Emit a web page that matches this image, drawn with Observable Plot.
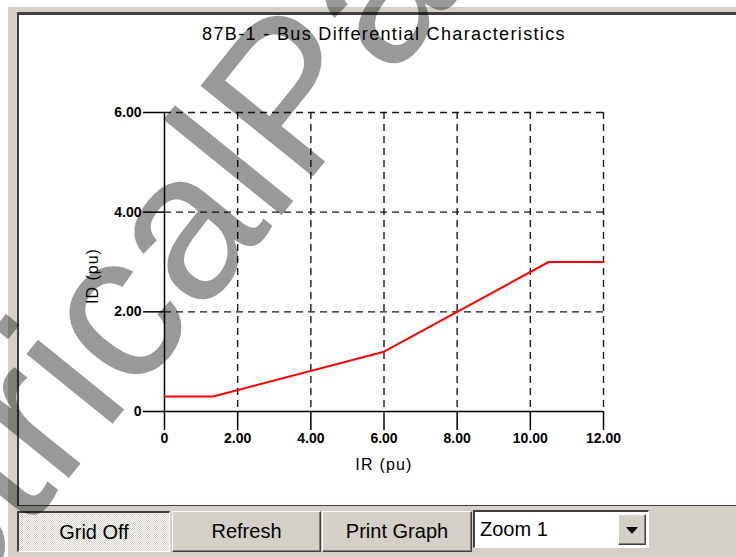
<!DOCTYPE html>
<html><head><meta charset="utf-8">
<script src="https://cdn.jsdelivr.net/npm/d3@7"></script>
<script src="https://cdn.jsdelivr.net/npm/@observablehq/plot@0.6"></script>
<style>
body{margin:0;background:#fff;}
#root{position:relative;width:736px;height:557px;overflow:hidden;background:#fff;font-family:Arial,"Liberation Sans",sans-serif;}
#gray{position:absolute;left:8px;top:7px;width:728px;height:550px;background:#d4d0c8;}
#panel{position:absolute;left:17px;top:12px;width:719px;height:494px;background:#fff;box-sizing:border-box;border-top:3px solid #404040;border-left:2px solid #404040;border-bottom:1px solid #404040;}
#chart{position:absolute;left:0;top:0;}
.btn{position:absolute;top:511px;height:41px;background:#d4d0c8;box-sizing:border-box;font:20px Arial,"Liberation Sans",sans-serif;display:flex;align-items:center;justify-content:center;color:#000;
 border-top:1px solid #fff;border-left:1px solid #fff;border-right:1px solid #404040;border-bottom:1px solid #404040;box-shadow:inset -1px -1px #808080;}
.pressed{border-top:2px solid #404040;border-left:2px solid #404040;border-right:1px solid #fff;border-bottom:1px solid #fff;box-shadow:none;
 background:repeating-conic-gradient(#ffffff 0 25%, #d4d0c8 0 50%) 0 0/2px 2px;}
#combo{position:absolute;left:473px;top:510px;width:176px;height:38px;background:#fff;box-sizing:border-box;border-top:2px solid #404040;border-left:2px solid #404040;border-right:1px solid #fff;border-bottom:1px solid #fff;font:20px Arial,"Liberation Sans",sans-serif;}
#combo .txt{position:absolute;left:5px;top:6px;}
#combo .arrow{position:absolute;right:2px;top:2px;width:28px;height:31px;background:#d4d0c8;box-sizing:border-box;border-top:1px solid #fff;border-left:1px solid #fff;border-right:1px solid #404040;border-bottom:1px solid #404040;box-shadow:inset -1px -1px #808080;}
#combo .tri{position:absolute;left:7px;top:12px;width:0;height:0;border-left:6px solid transparent;border-right:6px solid transparent;border-top:7px solid #000;}
#wm{position:absolute;left:0;top:0;pointer-events:none;}
</style>
</head><body>
<div id="root">
  <div id="gray"></div>
  <div id="panel"></div>
  <div id="chart"></div>
  <div class="btn pressed" style="left:17px;width:153px;">Grid Off</div>
  <div class="btn" style="left:172px;width:149px;">Refresh</div>
  <div class="btn" style="left:322px;width:150px;">Print Graph</div>
  <div id="combo"><span class="txt">Zoom 1</span><div class="arrow"><div class="tri"></div></div></div>
  <svg id="wm" width="736" height="557"><text x="-234" y="852" transform="rotate(-51 -234 852)" font-family="Liberation Sans, Arial, sans-serif" font-size="210" fill="rgba(0,0,0,0.4)">ElectricalPartManuals.com</text></svg>
</div>
<script>
const titleText = "87B-1 - Bus Differential Characteristics";
const xLabel = "IR (pu)";
const yLabel = "ID (pu)";
const irValues = [0, 1.33, 6.0, 10.5, 12.0];
const idValues = [0.30, 0.30, 1.20, 3.00, 3.00];
const xTicks = [0, 2, 4, 6, 8, 10, 12];
const yTicks = [0, 2, 4, 6];
const xGrid = [2, 4, 6, 8, 10, 12];
const yGrid = [2, 4, 6];
const fmt = d => d === 0 ? "0" : d.toFixed(2);

const curve = irValues.map((x, i) => ({x, y: idValues[i]}));

const plot = Plot.plot({
  width: 736,
  height: 506,
  marginLeft: 164,
  marginRight: 133,
  marginTop: 112,
  marginBottom: 95,
  x: {domain: [0, 12]},
  y: {domain: [0, 6]},
  style: {background: "transparent", fontFamily: "Arial, 'Liberation Sans', sans-serif", fontSize: "15px", color: "#000", overflow: "visible"},
  marks: [
    Plot.ruleX(xGrid, {stroke: "#000", strokeWidth: 1.4, strokeDasharray: "7,5", strokeOpacity: 0.9}),
    Plot.ruleY(yGrid, {stroke: "#000", strokeWidth: 1.4, strokeDasharray: "7,5", strokeOpacity: 0.9}),
    Plot.ruleX([0], {y1: 0, y2: 6, stroke: "#000", strokeWidth: 1.5}),
    Plot.ruleY([0], {x1: 0, x2: 12, stroke: "#000", strokeWidth: 1.5}),
    Plot.axisX({ticks: xTicks, tickFormat: fmt, tickSize: 19, tickPadding: 3, label: null, stroke: "#000", strokeWidth: 1.5, fill: "#000", fontWeight: "bold", fontSize: 14}),
    Plot.axisY({ticks: yTicks, tickFormat: fmt, tickSize: 21, tickPadding: 2, label: null, stroke: "#000", strokeWidth: 1.5, fill: "#000", fontWeight: "bold", fontSize: 14}),
    Plot.line(curve, {x: "x", y: "y", stroke: "#ff0000", strokeWidth: 2}),
    Plot.text([titleText], {frameAnchor: "top", dy: -85, fontSize: 18, fill: "#000", lineAnchor: "top"}),
    Plot.text([xLabel], {frameAnchor: "bottom", dy: 58, fontSize: 16, fill: "#000"}),
    Plot.text([yLabel], {frameAnchor: "left", dx: -72, dy: 14, rotate: -90, textAnchor: "middle", fontSize: 16, fill: "#000"})
  ]
});
const spacing = {[titleText]: "1.35px", [xLabel]: "1.2px", [yLabel]: "1px"};
d3.select(plot).selectAll("text").each(function() {
  const s = spacing[this.textContent];
  if (s) this.setAttribute("letter-spacing", s);
});
document.getElementById("chart").appendChild(plot);
</script>
</body></html>
